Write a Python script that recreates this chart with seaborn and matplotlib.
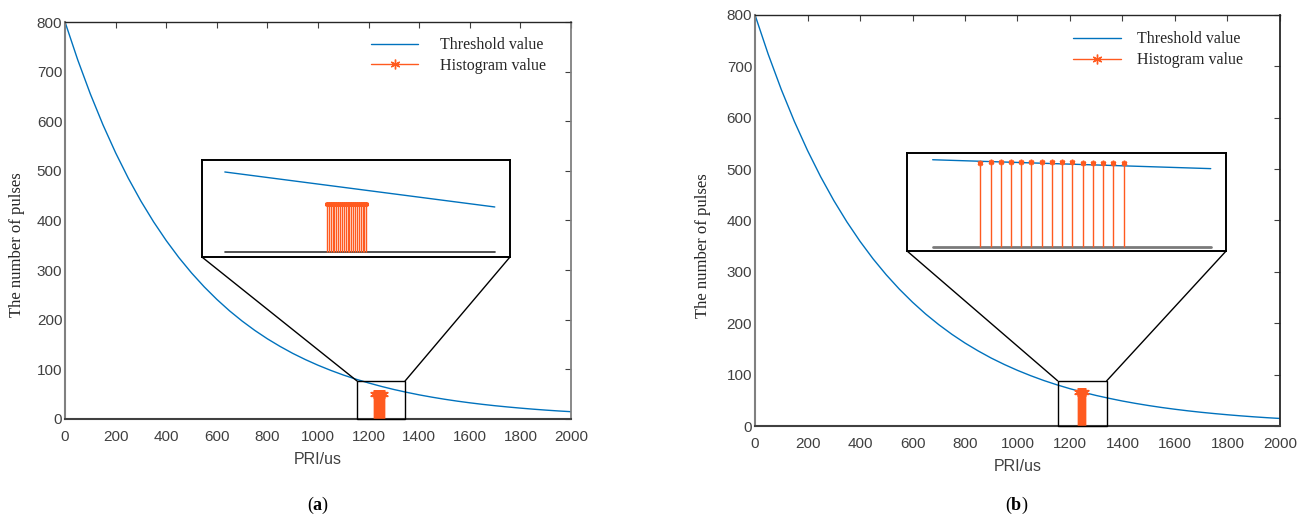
import numpy as np
import matplotlib
matplotlib.use("Agg")
import matplotlib.pyplot as plt
import seaborn as sns
from matplotlib.patches import Rectangle, ConnectionPatch
from matplotlib.legend_handler import HandlerLine2D
from matplotlib.lines import Line2D

# ---- data -------------------------------------------------------------
pri_grid = [0, 50, 100, 150, 200, 250, 300, 350, 400, 450, 500, 550, 600, 650,
            700, 750, 800, 850, 900, 950, 1000, 1050, 1100, 1150, 1200, 1250,
            1300, 1350, 1400, 1450, 1500, 1550, 1600, 1650, 1700, 1750, 1800,
            1850, 1900, 1950, 2000]
threshold = [800.0, 723.9, 655.0, 592.7, 536.3, 485.2, 439.0, 397.3, 359.5,
             325.2, 294.3, 266.3, 241.0, 218.0, 197.3, 178.5, 161.5, 146.2,
             132.2, 119.7, 108.3, 98.0, 88.6, 80.2, 72.6, 65.7, 59.4, 53.8,
             48.6, 44.0, 39.8, 36.0, 32.6, 29.5, 26.7, 24.2, 21.9, 19.8, 17.9,
             16.2, 14.7]

hist_a_pri = [1220, 1222, 1224, 1226, 1228, 1230, 1232, 1234, 1236, 1238, 1240,
              1242, 1244, 1246, 1248, 1250, 1252, 1254, 1256, 1258, 1260, 1262]
hist_a_count = [51, 51, 51, 51, 51, 51, 51, 51, 51, 51, 51,
                51, 51, 51, 51, 51, 51, 51, 51, 51, 51, 51]

hist_b_pri = [1230, 1232, 1234, 1236, 1238, 1240, 1242, 1244, 1246, 1248,
              1250, 1252, 1254, 1256, 1258]
hist_b_count = [66, 67, 67, 67, 67, 67, 67, 67, 67, 67, 66, 66, 66, 66, 66]

# threshold segment shown inside each magnified view
inset_a_pri = [1111, 1399]
inset_a_thr = [85.1, 47.9]
inset_b_pri = [1220.7, 1275.0]
inset_b_thr = [68.7, 61.7]

x_ticks = [0, 200, 400, 600, 800, 1000, 1200, 1400, 1600, 1800, 2000]
y_ticks = [0, 100, 200, 300, 400, 500, 600, 700, 800]

# ---- style ------------------------------------------------------------
sns.set_theme(style="white")
plt.rcParams["font.family"] = ["Liberation Sans", "DejaVu Sans"]
plt.rcParams["mathtext.fontset"] = "custom"
plt.rcParams["mathtext.rm"] = "Liberation Serif"
plt.rcParams["mathtext.bf"] = "Liberation Serif:bold"

BLUE = "#0072BD"
ORANGE = "#FF5A1F"
TXT = "#404040"
ASTER = (6, 2, 0)


class OffsetMarkerHandler(HandlerLine2D):
    """Legend line with its single marker placed off-centre."""

    def __init__(self, frac, **kw):
        super().__init__(numpoints=1, **kw)
        self.frac = frac

    def get_xdata(self, legend, xdescent, ydescent, width, height, fontsize):
        xdata = np.array([-xdescent, -xdescent + width], float)
        xm = np.array([-xdescent + self.frac * width])
        return xdata, xm


fig = plt.figure(figsize=(13.14, 5.24), dpi=100)

panels = [
    dict(rect=[0.0495, 0.2004, 0.3851, 0.7576],
         pri=hist_a_pri, cnt=hist_a_count,
         zoom=(1154, 1344, 76.6),
         inset_rect=[0.1537, 0.5095, 0.2344, 0.1851],
         inset_xlim=(1086.6, 1415.2), inset_ylim=(-5.3, 97.8),
         ipri=inset_a_pri, ithr=inset_a_thr,
         inset_ms=3.5, base_col="#333333", base_lw=1.2,
         right_col="#808080", ylab_x=-0.080,
         leg_anchor=(0.605, 0.962), leg_hl=2.94, leg_tp=1.35,
         label="a", label_x=0.242),
    dict(rect=[0.5746, 0.1870, 0.3995, 0.7844],
         pri=hist_b_pri, cnt=hist_b_count,
         zoom=(1153, 1340, 88),
         inset_rect=[0.6903, 0.5210, 0.2428, 0.1870],
         inset_xlim=(1215.7, 1278.0), inset_ylim=(-3.15, 74.0),
         ipri=inset_b_pri, ithr=inset_b_thr,
         inset_ms=4, base_col="#7a7a7a", base_lw=2.0,
         right_col="#262626", ylab_x=-0.084,
         leg_anchor=(0.605, 0.960), leg_hl=3.06, leg_tp=0.94,
         label="b", label_x=0.774),
]

for p in panels:
    ax = fig.add_axes(p["rect"])
    sns.lineplot(x=pri_grid, y=threshold, ax=ax, color=BLUE, lw=1.0,
                 legend=False)
    ax.vlines(p["pri"], 0, p["cnt"], color=ORANGE, lw=1.0, zorder=3)
    ax.plot(p["pri"], p["cnt"], ls="none", marker=ASTER, ms=6,
            mec=ORANGE, mew=1.0, zorder=4)

    ax.set_xlim(0, 2000)
    ax.set_ylim(0, 800)
    ax.set_xticks(x_ticks)
    ax.set_yticks(y_ticks)
    ax.tick_params(axis="both", direction="in", length=4, width=0.8,
                   colors=TXT, labelsize=11, top=True, right=True)
    ax.tick_params(axis="x", pad=8)
    ax.tick_params(axis="y", pad=2)
    ax.set_xlabel("PRI/us", fontsize=11.5, color=TXT, labelpad=6)
    ax.set_ylabel("The number of pulses", fontsize=12, color="#262626",
                  family="Liberation Serif")
    ax.yaxis.set_label_coords(p["ylab_x"], 0.44)
    ax.spines["left"].set_color("#808080")
    ax.spines["left"].set_linewidth(1.5)
    ax.spines["bottom"].set_color("#404040")
    ax.spines["bottom"].set_linewidth(1.5)
    ax.spines["top"].set_color("#262626")
    ax.spines["top"].set_linewidth(1.0)
    ax.spines["right"].set_color(p["right_col"])
    ax.spines["right"].set_linewidth(1.3)

    # legend
    h_thr = Line2D([], [], color=BLUE, lw=1.0)
    h_hist = Line2D([], [], color=ORANGE, lw=1.0, marker=ASTER, ms=7,
                    mec=ORANGE, mew=1.0)
    leg = ax.legend([h_thr, h_hist], ["Threshold value", "Histogram value"],
                    handler_map={h_hist: OffsetMarkerHandler(0.68)},
                    loc="upper left", bbox_to_anchor=p["leg_anchor"],
                    frameon=False, handlelength=p["leg_hl"],
                    handletextpad=p["leg_tp"], labelspacing=0.3,
                    borderpad=0, borderaxespad=0,
                    prop=dict(family="Liberation Serif", size=11.5))
    for t in leg.get_texts():
        t.set_color("#262626")

    # zoom window on the main axes
    x0, x1, ytop = p["zoom"]
    ax.add_patch(Rectangle((x0, 0), x1 - x0, ytop, fill=False,
                           edgecolor="black", lw=1.0, zorder=5,
                           clip_on=False))

    # magnified view
    ins = fig.add_axes(p["inset_rect"])
    sns.lineplot(x=p["ipri"], y=p["ithr"], ax=ins, color=BLUE, lw=1.0,
                 legend=False)
    ins.plot([p["ipri"][0], p["ipri"][-1]], [0, 0], color=p["base_col"],
             lw=p["base_lw"], zorder=2)
    ins.vlines(p["pri"], 0, p["cnt"], color=ORANGE, lw=1.0, zorder=3)
    ins.plot(p["pri"], p["cnt"], ls="none", marker=ASTER,
             ms=p["inset_ms"], mec=ORANGE, mew=1.2, zorder=4)
    ins.set_xlim(*p["inset_xlim"])
    ins.set_ylim(*p["inset_ylim"])
    ins.set_xticks([])
    ins.set_yticks([])
    ins.set_xlabel("")
    ins.set_ylabel("")
    for s in ins.spines.values():
        s.set_color("black")
        s.set_linewidth(1.4)

    for xa, xb in ((x0, 0.0), (x1, 1.0)):
        con = ConnectionPatch(xyA=(xa, ytop), coordsA=ax.transData,
                              xyB=(xb, 0.0), coordsB=ins.transAxes,
                              color="black", lw=1.0)
        fig.add_artist(con)

    fig.text(p["label_x"], 0.036, r"($\mathbf{%s}$)" % p["label"],
             ha="center", va="center", fontsize=13,
             family="Liberation Serif", color="black")

fig.savefig("out.png", dpi=100, facecolor="white")
